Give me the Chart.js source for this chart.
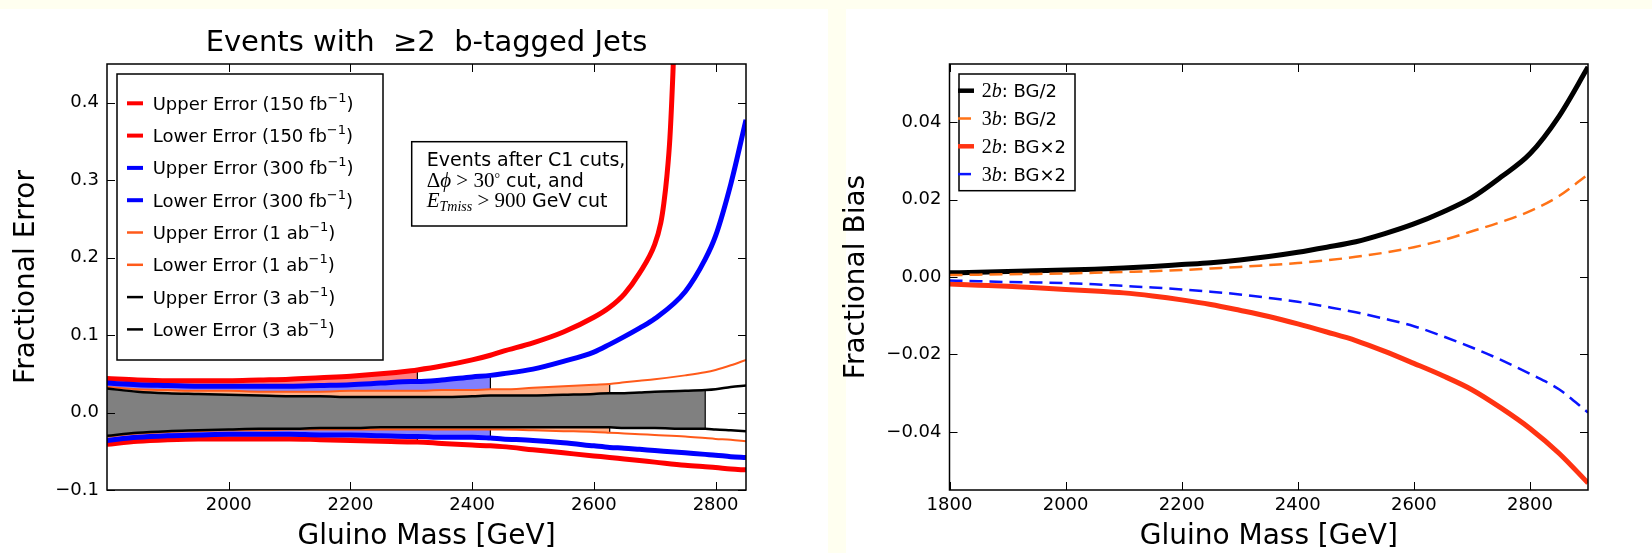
<!DOCTYPE html>
<html>
<head>
<meta charset="utf-8">
<script src="https://cdn.jsdelivr.net/npm/chart.js@4/dist/chart.umd.min.js"></script>
<style>
  body { margin: 0; background: #fffff0; overflow: hidden; }
  #wrap { position: relative; width: 1652px; height: 553px; }
  .panel { position: absolute; top: 9px; height: 544px; background: #fff; }
  canvas { position: absolute; top: 0; }
</style>
</head>
<body>
<div id="wrap">
  <div class="panel" style="left:0;width:828px"></div>
  <div class="panel" style="left:846px;width:806px"></div>
  <canvas id="errChart" width="828" height="553" style="left:0"></canvas>
  <canvas id="biasChart" width="822" height="553" style="left:830px"></canvas>
</div>
<script>
// ---- left panel: fractional error bands ----
const massLeft = [1800, 1850, 1900, 1950, 2000, 2050, 2100, 2150, 2200, 2250, 2300, 2310, 2350, 2400, 2430,
                  2450, 2500, 2550, 2600, 2626, 2650, 2675, 2700, 2750, 2783, 2800, 2825, 2850];

const upper150 = [0.044, 0.042, 0.041, 0.041, 0.041, 0.042, 0.043, 0.045, 0.047, 0.050, 0.054, 0.055, 0.060, 0.068, 0.074,
                  0.079, 0.090, 0.104, 0.123, 0.136, 0.153, 0.180, 0.217, null, null, null, null, null];
const upper150TailMass = [2710, 2715, 2720, 2725, 2730, 2734];
const upper150Tail = [0.245, 0.270, 0.305, 0.355, 0.440, 0.530];
const lower150 = [-0.041, -0.037, -0.035, -0.034, -0.034, -0.034, -0.034, -0.035, -0.036, -0.037, -0.038, -0.038, -0.040, -0.042, -0.043,
                  -0.044, -0.048, -0.052, -0.056, -0.058, -0.060, -0.062, -0.064, -0.068, -0.070, -0.071, -0.073, -0.074];

const upper300 = [0.038, 0.036, 0.035, 0.034, 0.034, 0.034, 0.034, 0.035, 0.036, 0.038, 0.040, 0.040, 0.042, 0.046, 0.048,
                  0.050, 0.056, 0.066, 0.078, 0.088, 0.098, 0.109, 0.121, 0.156, 0.198, 0.228, 0.295, 0.378];
const lower300 = [-0.036, -0.032, -0.030, -0.029, -0.028, -0.028, -0.028, -0.029, -0.029, -0.030, -0.031, -0.031, -0.032, -0.032, -0.033,
                  -0.034, -0.036, -0.039, -0.043, -0.045, -0.046, -0.0475, -0.049, -0.052, -0.054, -0.055, -0.057, -0.058];

const upper1ab = [0.033, 0.030, 0.029, 0.028, 0.028, 0.027, 0.027, 0.027, 0.028, 0.028, 0.028, 0.028, 0.029, 0.029, 0.030,
                  0.030, 0.032, 0.034, 0.036, 0.037, 0.039, 0.041, 0.043, 0.048, 0.052, 0.055, 0.061, 0.068];
const lower1ab = [-0.031, -0.027, -0.025, -0.024, -0.023, -0.023, -0.022, -0.022, -0.022, -0.022, -0.022, -0.022, -0.022, -0.022, -0.022,
                  -0.022, -0.023, -0.024, -0.025, -0.026, -0.027, -0.028, -0.029, -0.031, -0.033, -0.034, -0.035, -0.037];

const upper3ab = [0.031, 0.027, 0.025, 0.024, 0.023, 0.022, 0.021, 0.021, 0.020, 0.020, 0.020, 0.020, 0.020, 0.021, 0.022,
                  0.022, 0.022, 0.023, 0.024, 0.025, 0.025, 0.026, 0.027, 0.028, 0.029, 0.030, 0.033, 0.035];
const lower3ab = [-0.030, -0.026, -0.024, -0.023, -0.022, -0.021, -0.021, -0.020, -0.020, -0.019, -0.019, -0.019, -0.019, -0.019, -0.019,
                  -0.019, -0.019, -0.019, -0.019, -0.019, -0.020, -0.020, -0.020, -0.021, -0.021, -0.022, -0.023, -0.024];

// mass where each shaded band stops: 150 fb, 300 fb, 1 ab, 3 ab
const shadeEndMass = [2310, 2430, 2626, 2783];

const errTicksY = [-0.1, 0.0, 0.1, 0.2, 0.3, 0.4];
const errTicksX = [2000, 2200, 2400, 2600, 2800];

// ---- right panel: fractional bias ----
const massRight = [1800, 1850, 1900, 1950, 2000, 2050, 2100, 2150, 2200, 2250, 2300, 2350,
                   2400, 2450, 2500, 2550, 2600, 2650, 2700, 2750, 2800, 2850, 2900];
const bias2bHalf = [0.0011, 0.0012, 0.0014, 0.0016, 0.0018, 0.0020, 0.0023, 0.0027, 0.0032, 0.0037, 0.0044, 0.0053,
                    0.0064, 0.0077, 0.0091, 0.0112, 0.0137, 0.0168, 0.0205, 0.0258, 0.0318, 0.0415, 0.0542];
const bias3bHalf = [0.0005, 0.0006, 0.0007, 0.0008, 0.0009, 0.0011, 0.0013, 0.0015, 0.0018, 0.0022, 0.0026, 0.0031,
                    0.0036, 0.0043, 0.0052, 0.0063, 0.0077, 0.0095, 0.0118, 0.0142, 0.0170, 0.0209, 0.0265];
const bias2bDouble = [-0.0018, -0.0021, -0.0024, -0.0028, -0.0032, -0.0036, -0.0041, -0.0049, -0.0059, -0.0071, -0.0086, -0.0102,
                      -0.0121, -0.0142, -0.0164, -0.0192, -0.0223, -0.0255, -0.0291, -0.0338, -0.0391, -0.0455, -0.0532];
const bias3bDouble = [-0.0009, -0.0011, -0.0013, -0.0014, -0.0016, -0.0019, -0.0023, -0.0027, -0.0032, -0.0038, -0.0045, -0.0054,
                      -0.0064, -0.0077, -0.0091, -0.0108, -0.0127, -0.0153, -0.0182, -0.0214, -0.0250, -0.0290, -0.0350];

const biasTicksY = [-0.04, -0.02, 0.00, 0.02, 0.04];
const biasTicksX = [1800, 2000, 2200, 2400, 2600, 2800];

// ---- helpers ----
const SANS = "'DejaVu Sans'";
const SERIF = "'Liberation Serif'";
Chart.defaults.font.family = SANS;
Chart.defaults.color = '#000';

const toPoints = (xs, ys) => xs.map((x, i) => ({x, y: ys[i]})).filter(p => p.y !== null);
const minusFmt = (v, d) => (Math.abs(v) < 1e-9 ? 0 : v).toFixed(d).replace('-', '\u2212');

function drawRuns(ctx, runs, x, y) {
  runs.forEach(r => {
    ctx.font = r.font;
    ctx.fillText(r.text, x, y + (r.dy || 0));
    x += ctx.measureText(r.text).width;
  });
}

// matplotlib-style frame with inward ticks on all four sides
const frameTicks = {
  id: 'frameTicks',
  afterDatasetsDraw(chart) {
    const {ctx, chartArea: a, scales} = chart;
    ctx.save();
    ctx.strokeStyle = '#000';
    ctx.lineWidth = 1;
    ctx.beginPath();
    scales.x.ticks.forEach(t => {
      const px = Math.round(scales.x.getPixelForValue(t.value)) + 0.5;
      ctx.moveTo(px, a.bottom); ctx.lineTo(px, a.bottom - 8);
      ctx.moveTo(px, a.top); ctx.lineTo(px, a.top + 8);
    });
    scales.y.ticks.forEach(t => {
      const py = Math.round(scales.y.getPixelForValue(t.value)) + 0.5;
      ctx.moveTo(a.left, py); ctx.lineTo(a.left + 8, py);
      ctx.moveTo(a.right, py); ctx.lineTo(a.right - 8, py);
    });
    ctx.stroke();
    ctx.lineWidth = 1.5;
    ctx.strokeRect(a.left, a.top, a.right - a.left, a.bottom - a.top);
    ctx.restore();
  }
};

function boxLegend(id, items, box) {
  return {
    id,
    afterDraw(chart) {
      const {ctx, chartArea: a} = chart;
      const x0 = a.left + box.dx, y0 = a.top + box.dy;
      ctx.save();
      ctx.fillStyle = '#fff';
      ctx.fillRect(x0, y0, box.w, box.h);
      ctx.strokeStyle = '#000';
      ctx.lineWidth = 1.5;
      ctx.strokeRect(x0, y0, box.w, box.h);
      items.forEach((it, i) => {
        const cy = y0 + box.first + i * box.step;
        ctx.beginPath();
        ctx.strokeStyle = it.color;
        ctx.lineWidth = it.width;
        ctx.setLineDash(it.dash || []);
        ctx.moveTo(x0 + box.sx, cy);
        ctx.lineTo(x0 + box.sx + 16, cy);
        ctx.stroke();
        ctx.setLineDash([]);
        ctx.fillStyle = '#000';
        ctx.textBaseline = 'alphabetic';
        drawRuns(ctx, it.runs, x0 + box.tx, cy + 6.5);
      });
      ctx.restore();
    }
  };
}

const cutNote = {
  id: 'cutNote',
  afterDraw(chart) {
    const {ctx, chartArea: a} = chart;
    const x0 = a.left + 304.7, y0 = a.top + 77.7;
    ctx.save();
    ctx.fillStyle = '#fff';
    ctx.fillRect(x0, y0, 215, 84.3);
    ctx.strokeStyle = '#000';
    ctx.lineWidth = 1.5;
    ctx.strokeRect(x0, y0, 215, 84.3);
    ctx.fillStyle = '#000';
    ctx.textBaseline = 'alphabetic';
    const tx = x0 + 15;
    drawRuns(ctx, [{text: 'Events after C1 cuts,', font: '19px ' + SANS}], tx, y0 + 24.3);
    drawRuns(ctx, [
      {text: '\u0394', font: '21px ' + SERIF},
      {text: '\u03d5', font: 'italic 21px ' + SERIF},
      {text: ' > 30', font: '21px ' + SERIF},
      {text: '\u00b0', font: '14px ' + SERIF, dy: -4},
      {text: ' cut, and', font: '19px ' + SANS}
    ], tx, y0 + 44.8);
    drawRuns(ctx, [
      {text: 'E', font: 'italic 21px ' + SERIF},
      {text: 'Tmiss', font: 'italic 14px ' + SERIF, dy: 4},
      {text: ' > 900', font: '21px ' + SERIF},
      {text: ' GeV cut', font: '19px ' + SANS}
    ], tx, y0 + 65.3);
    ctx.restore();
  }
};

// ---- left chart datasets ----
const errLines = [
  {side: 'Upper', lumi: '150 fb', pts: toPoints(massLeft, upper150).concat(toPoints(upper150TailMass, upper150Tail)), color: '#ff0000', width: 5},
  {side: 'Lower', lumi: '150 fb', pts: toPoints(massLeft, lower150), color: '#ff0000', width: 5},
  {side: 'Upper', lumi: '300 fb', pts: toPoints(massLeft, upper300), color: '#0000ff', width: 5},
  {side: 'Lower', lumi: '300 fb', pts: toPoints(massLeft, lower300), color: '#0000ff', width: 5},
  {side: 'Upper', lumi: '1 ab', pts: toPoints(massLeft, upper1ab), color: '#ff5a1a', width: 2},
  {side: 'Lower', lumi: '1 ab', pts: toPoints(massLeft, lower1ab), color: '#ff5a1a', width: 2},
  {side: 'Upper', lumi: '3 ab', pts: toPoints(massLeft, upper3ab), color: '#000000', width: 2.5},
  {side: 'Lower', lumi: '3 ab', pts: toPoints(massLeft, lower3ab), color: '#000000', width: 2.5}
];

const bands = [
  {up: upper150, lo: lower150, end: shadeEndMass[0], color: '#ff8080'},
  {up: upper300, lo: lower300, end: shadeEndMass[1], color: '#8080ff'},
  {up: upper1ab, lo: lower1ab, end: shadeEndMass[2], color: '#ffb088'},
  {up: upper3ab, lo: lower3ab, end: shadeEndMass[3], color: '#808080'}
];

const errDatasets = [];
errLines.forEach((s, i) => {
  errDatasets.push({
    label: s.side + ' Error (' + s.lumi + '\u207b\u00b9)', data: s.pts,
    borderColor: s.color, borderWidth: s.width, order: errLines.length - i, fill: false
  });
});
bands.forEach((b, k) => {
  const keep = massLeft.map((m, i) => i).filter(i => massLeft[i] <= b.end);
  const upPts = keep.map(i => ({x: massLeft[i], y: b.up[i]}));
  const loPts = keep.map(i => ({x: massLeft[i], y: b.lo[i]}));
  const last = keep[keep.length - 1];
  const base = 20 + (3 - k) * 10;
  errDatasets.push({data: upPts, borderWidth: 0, backgroundColor: b.color, fill: '+1', order: base + 2});
  errDatasets.push({data: loPts, borderWidth: 0, fill: false, order: base + 1});
  errDatasets.push({
    data: [{x: massLeft[last], y: b.up[last]}, {x: massLeft[last], y: b.lo[last]}],
    borderColor: '#000', borderWidth: 1.2, fill: false, order: base
  });
});

const errLegendItems = errLines.map(s => ({
  color: s.color, width: s.width >= 5 ? 4 : 2.5,
  runs: [
    {text: s.side + ' Error (' + s.lumi, font: '18px ' + SANS},
    {text: '\u22121', font: '13px ' + SANS, dy: -8},
    {text: ')', font: '18px ' + SANS}
  ]
}));

new Chart(document.getElementById('errChart'), {
  type: 'line',
  data: {datasets: errDatasets},
  options: {
    responsive: false,
    animation: false,
    devicePixelRatio: 1,
    layout: {padding: {top: 0, right: 82, bottom: 0, left: 0}},
    elements: {
      point: {radius: 0, hoverRadius: 0},
      line: {cubicInterpolationMode: 'monotone', borderCapStyle: 'butt'}
    },
    datasets: {line: {clip: 0}},
    plugins: {
      legend: {display: false},
      tooltip: {enabled: false},
      title: {
        display: true, fullSize: false,
        text: 'Events with  \u22652  b-tagged Jets',
        font: {size: 29, weight: 'normal', lineHeight: 1},
        padding: {top: 28.5, bottom: 6.5}, color: '#000'
      }
    },
    scales: {
      x: {
        type: 'linear', min: 1800, max: 2850,
        afterFit: s => { s.height = 63; },
        afterBuildTicks: s => { s.ticks = errTicksX.map(v => ({value: v})); },
        ticks: {font: {size: 18}, padding: 5, callback: v => String(v)},
        grid: {display: false, drawTicks: false},
        border: {display: false},
        title: {display: true, text: 'Gluino Mass [GeV]', font: {size: 28, lineHeight: 1}, padding: {top: 0, bottom: 2}}
      },
      y: {
        min: -0.1, max: 0.45,
        afterFit: s => { s.width = 107; },
        afterBuildTicks: s => { s.ticks = errTicksY.map(v => ({value: v})); },
        ticks: {font: {size: 18}, padding: 8, callback: v => minusFmt(v, 1)},
        grid: {display: false, drawTicks: false},
        border: {display: false},
        title: {display: true, text: 'Fractional Error', font: {size: 28, lineHeight: 1}, padding: {top: 12.6, bottom: 0}}
      }
    }
  },
  plugins: [frameTicks,
    boxLegend('errLegend', errLegendItems, {dx: 10, dy: 10, w: 266, h: 286, first: 29.3, step: 32.3, sx: 10, tx: 35.7}),
    cutNote]
});

// ---- right chart ----
const biasLines = [
  {tag: '2', kind: ': BG/2', data: bias2bHalf, color: '#000000', width: 5, dash: []},
  {tag: '3', kind: ': BG/2', data: bias3bHalf, color: '#ff7216', width: 2.5, dash: [13, 7]},
  {tag: '2', kind: ': BG\u00d72', data: bias2bDouble, color: '#ff3312', width: 5, dash: []},
  {tag: '3', kind: ': BG\u00d72', data: bias3bDouble, color: '#0a14ff', width: 2.5, dash: [13, 7]}
];

const biasDatasets = biasLines.map((s, i) => ({
  label: s.tag + 'b' + s.kind,
  data: toPoints(massRight, s.data),
  borderColor: s.color, borderWidth: s.width, borderDash: s.dash,
  order: biasLines.length - i, fill: false
}));

const biasLegendItems = biasLines.map(s => ({
  color: s.color, width: s.width >= 5 ? 4.5 : 2.5, dash: s.dash,
  runs: [
    {text: s.tag, font: '20px ' + SERIF},
    {text: 'b', font: 'italic 20px ' + SERIF},
    {text: s.kind, font: '18px ' + SANS}
  ]
}));

new Chart(document.getElementById('biasChart'), {
  type: 'line',
  data: {datasets: biasDatasets},
  options: {
    responsive: false,
    animation: false,
    devicePixelRatio: 1,
    layout: {padding: {top: 64, right: 64, bottom: 0, left: 0}},
    elements: {
      point: {radius: 0, hoverRadius: 0},
      line: {cubicInterpolationMode: 'monotone', borderCapStyle: 'butt'}
    },
    datasets: {line: {clip: 0}},
    plugins: {legend: {display: false}, tooltip: {enabled: false}},
    scales: {
      x: {
        type: 'linear', min: 1800, max: 2900,
        afterFit: s => { s.height = 63; },
        afterBuildTicks: s => { s.ticks = biasTicksX.map(v => ({value: v})); },
        ticks: {font: {size: 18}, padding: 5, callback: v => String(v)},
        grid: {display: false, drawTicks: false},
        border: {display: false},
        title: {display: true, text: 'Gluino Mass [GeV]', font: {size: 28, lineHeight: 1}, padding: {top: 0, bottom: 2}}
      },
      y: {
        min: -0.055, max: 0.055,
        afterFit: s => { s.width = 119.5; },
        afterBuildTicks: s => { s.ticks = biasTicksY.map(v => ({value: v})); },
        ticks: {font: {size: 18}, padding: 8, callback: v => minusFmt(v, 2)},
        grid: {display: false, drawTicks: false},
        border: {display: false},
        title: {display: true, text: 'Fractional Bias', font: {size: 28, lineHeight: 1}, padding: {top: 12.6, bottom: 0}}
      }
    }
  },
  plugins: [frameTicks,
    boxLegend('biasLegend', biasLegendItems, {dx: 9.5, dy: 10, w: 116, h: 116.7, first: 16.7, step: 27.8, sx: -1, tx: 22.7})]
});
</script>
</body>
</html>
